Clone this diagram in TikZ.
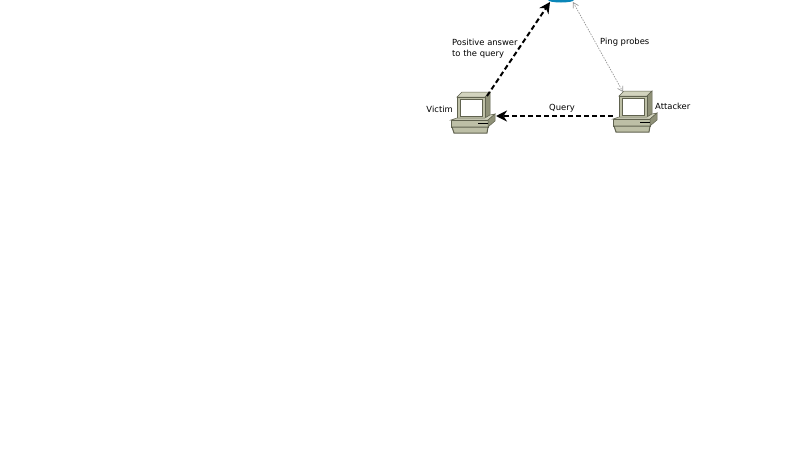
\documentclass[tikz,border=0pt]{standalone}
\usepackage{fontspec}
\setmainfont{DejaVu Sans}
\usetikzlibrary{arrows.meta,shapes.geometric}
\definecolor{casebody}{HTML}{BDBFA6}
\definecolor{caseedge}{HTML}{60624F}
\definecolor{caselight}{HTML}{D2D3BE}
\definecolor{casedark}{HTML}{8F9178}
\definecolor{cloudblue}{HTML}{0A86B8}
\tikzset{
  pics/computer/.style={code={
    \coordinate (-top) at (36,4);
    \coordinate (-side) at (45,24);
    \coordinate (-front) at (0,25);
    \coordinate (-ping) at (10,1);
    \draw[caseedge,fill=caselight,line width=.5pt] (6,5) -- (11,0) -- (39,0) -- (34,5) -- cycle;
    \draw[caseedge,fill=casedark,line width=.5pt] (34,5) -- (39,0) -- (39,23) -- (34,26) -- cycle;
    \draw[caseedge,fill=casebody,line width=1pt] (6,5) rectangle (34,26);
    \fill[white] (9,7) rectangle (31,24);
    \draw[caseedge,line width=.7pt] (9,7) rectangle (31,24);
    \draw[caseedge,fill=caselight,line width=.5pt] (0,28) -- (6,26) -- (34,26) -- (39,23) -- (44,22) -- (37,28) -- cycle;
    \draw[caseedge,fill=casebody,line width=.5pt] (0,28) rectangle (37,35);
    \draw[caseedge,fill=casedark,line width=.5pt] (37,28) -- (44,22) -- (44,29) -- (37,35) -- cycle;
    \draw[caseedge,fill=casebody,line width=1pt] (1,35) -- (3,41) -- (36,41) -- (37,35) -- cycle;
    \fill[black] (27,31) rectangle (37,32.4);
  }},
  label/.style={font=\fontsize{8.4}{10.5}\selectfont,inner sep=0,text=black},
  query/.style={line width=2pt,dash pattern=on 5pt off 3pt,-{Stealth[length=11pt,width=11pt]}},
  probe/.style={black!40,line width=.7pt,dash pattern=on 1.5pt off 1.2pt,{Straight Barb[length=5pt,width=6pt]}-{Straight Barb[length=5pt,width=6pt]}}
}
\begin{document}
\begin{tikzpicture}[x=1pt,y=-1pt]
  \useasboundingbox (0,0) rectangle (800,450);
  \node[ellipse,fill=cloudblue,minimum width=26pt,minimum height=5pt,inner sep=0] (cloud) at (561,0) {};
  \coordinate (cloudleft) at (550,2);
  \coordinate (cloudright) at (573,2);
  \pic (victim) at (451,92) {computer};
  \pic (attacker) at (613,91) {computer};
  \node[label,anchor=east] (victimlabel) at (453,109.5) {Victim};
  \node[label,anchor=west] (attackerlabel) at (655,106.5) {Attacker};
  \node[label] (querylabel) at (562,108.5) {Query};
  \node[label,anchor=west] (pinglabel) at (600,42) {Ping probes};
  \node[label,anchor=west,align=left] (answerlabel) at (452,48.5) {Positive answer\\to the query};
  \draw[query] (victim-top) -- (cloudleft);
  \draw[query] (attacker-front) -- (victim-side);
  \draw[probe] (cloudright) -- (attacker-ping);
\end{tikzpicture}
\end{document}
